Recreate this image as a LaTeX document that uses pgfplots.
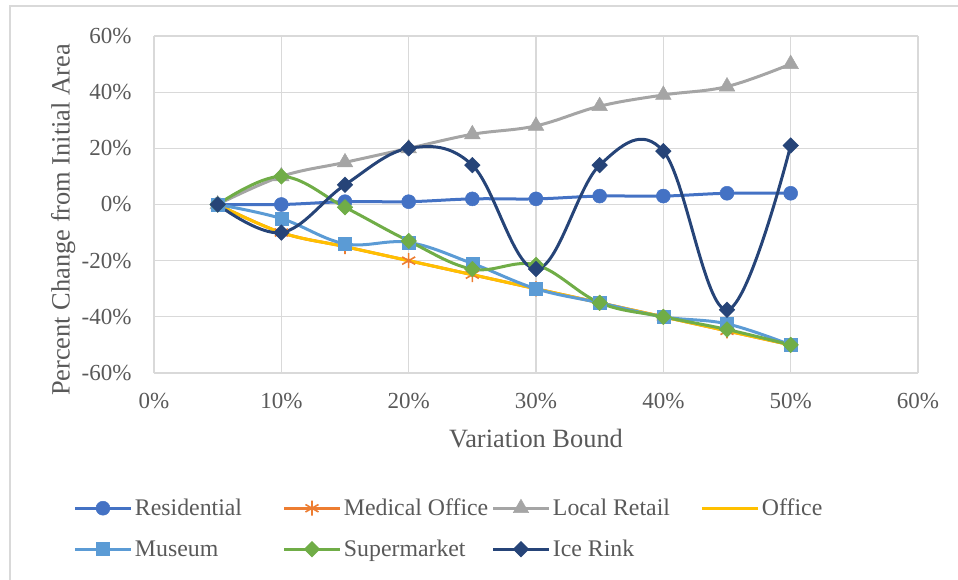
\documentclass[border=0pt]{standalone}
\usepackage{pgfplots}
\pgfplotsset{compat=1.18}
\usepackage{fontspec}
\setmainfont{Liberation Serif}

\definecolor{cRes}{HTML}{4472C4}
\definecolor{cMed}{HTML}{ED7D31}
\definecolor{cRet}{HTML}{A5A5A5}
\definecolor{cOff}{HTML}{FFC000}
\definecolor{cMus}{HTML}{5B9BD5}
\definecolor{cSup}{HTML}{70AD47}
\definecolor{cIce}{HTML}{264478}
\definecolor{txt}{HTML}{595959}
\definecolor{grd}{HTML}{D9D9D9}

\newcommand{\lentry}[1]{\makebox[151pt][l]{\hspace{3pt}\strut #1}}

\begin{document}
\begin{tikzpicture}
\useasboundingbox (0pt,0pt) rectangle (958pt,-580pt);
\draw[grd, line width=1.3pt] (10pt,-6pt) rectangle (990pt,-620pt);
\begin{axis}[
    at={(154pt,-373pt)}, anchor=south west,
    scale only axis, width=764pt, height=337pt,
    xmin=0, xmax=60, ymin=-60, ymax=60,
    xtick={0,10,20,30,40,50,60},
    xticklabels={0\%,10\%,20\%,30\%,40\%,50\%,60\%},
    ytick={-60,-40,-20,0,20,40,60},
    yticklabels={-60\%,-40\%,-20\%,0\%,20\%,40\%,60\%},
    grid=major,
    major grid style={grd, line width=1.3pt},
    axis line style={draw=none},
    tick style={draw=none},
    ticklabel style={font=\fontsize{23}{23}\selectfont, text=txt},
    xticklabel style={yshift=-17pt},
    yticklabel style={xshift=-19pt},
    xlabel={Variation Bound},
    ylabel={Percent Change from Initial Area},
    every axis x label/.style={at={(axis description cs:0.5,-0.193)}, anchor=center, font=\fontsize{26.4}{26.4}\selectfont, text=txt},
    every axis y label/.style={at={(axis description cs:-0.119,0.454)}, anchor=center, rotate=90, font=\fontsize{26.4}{26.4}\selectfont, text=txt},
    legend columns=4,
    legend image code/.code={%
        \path[draw=none, fill=none] (0pt,-10pt) -- (0pt,10pt);
        \draw[mark repeat=2,mark phase=2,#1] plot coordinates {(0pt,0pt) (27.5pt,0pt) (55pt,0pt)};},
    legend style={at={(axis description cs:-0.105,-0.371)}, anchor=north west,
        draw=none, fill=none, inner sep=0pt, column sep=0pt, row sep=21pt,
        font=\fontsize{23.8}{23.8}\selectfont, text=txt,
        nodes={inner sep=0pt}},
    legend cell align=left,
    every axis plot/.append style={line width=3pt, smooth, tension=0.62},
]

% Residential
\addplot[cRes, mark=*, mark size=7pt, mark options={solid, fill=cRes, line width=0.5pt}]
    coordinates {(5,0)(10,0)(15,1)(20,1)(25,2)(30,2)(35,3)(40,3)(45,4)(50,4)};
\addlegendentry{\lentry{Residential}}

% Medical Office
\addplot[cMed, mark=asterisk, mark size=7.5pt, mark options={solid, line width=1.6pt}]
    coordinates {(5,0)(10,-10)(15,-15)(20,-20)(25,-25)(30,-30)(35,-35)(40,-40)(45,-45)(50,-50)};
\addlegendentry{\lentry{Medical Office}}

% Local Retail
\addplot[cRet, mark=triangle*, mark size=9pt, mark options={solid, fill=cRet, line width=0.5pt}]
    coordinates {(5,0)(10,10)(15,15)(20,20)(25,25)(30,28)(35,35)(40,39)(45,42)(50,50)};
\addlegendentry{\lentry{Local Retail}}

% Office
\addplot[cOff]
    coordinates {(5,0)(10,-10)(15,-15)(20,-20)(25,-25)(30,-30)(35,-35)(40,-40)(45,-45)(50,-50)};
\addlegendentry{\lentry{Office}}

% Museum
\addplot[cMus, mark=square*, mark size=6.5pt, mark options={solid, fill=cMus, line width=0.5pt}]
    coordinates {(5,0)(10,-5)(15,-14)(20,-13.5)(25,-21)(30,-30)(35,-35)(40,-40)(45,-42.5)(50,-50)};
\addlegendentry{\lentry{Museum}}

% Supermarket
\addplot[cSup, mark=square*, mark size=5.5pt, mark options={solid, rotate=45, fill=cSup, line width=0.5pt}]
    coordinates {(5,0)(10,10)(15,-1)(20,-13)(25,-23)(30,-21.5)(35,-35)(40,-40)(45,-44.5)(50,-50)};
\addlegendentry{\lentry{Supermarket}}

% Ice Rink
\addplot[cIce, mark=square*, mark size=5.5pt, mark options={solid, rotate=45, fill=cIce, line width=0.5pt}]
    coordinates {(5,0)(10,-10)(15,7)(20,20)(25,14)(30,-23)(35,14)(40,19)(45,-37.5)(50,21)};
\addlegendentry{\lentry{Ice Rink}}

\end{axis}
\end{tikzpicture}
\end{document}
